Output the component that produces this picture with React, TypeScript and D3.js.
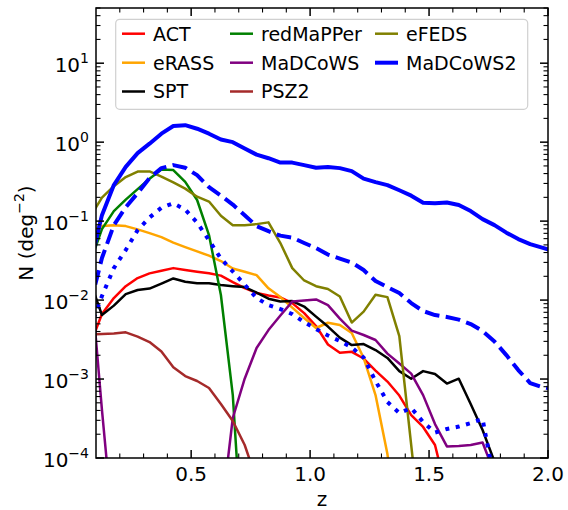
import React from 'react';
import * as d3 from 'd3';

// redshift grid (bin centres)
const zGrid = [0.075, 0.125, 0.175, 0.225, 0.275, 0.325, 0.375, 0.425, 0.475, 0.525, 0.575, 0.625, 0.675, 0.725, 0.775, 0.825, 0.875, 0.925, 0.975, 1.025, 1.075, 1.125, 1.175, 1.225, 1.275, 1.325, 1.375, 1.425, 1.475, 1.525, 1.575, 1.625, 1.675, 1.725, 1.775, 1.825, 1.875, 1.925, 1.975, 2.025];

const actN = [0.00269, 0.00665, 0.0106, 0.0150, 0.0190, 0.0218, 0.0235, 0.0254, 0.0240, 0.0228, 0.0218, 0.0204, 0.0169, 0.0142, 0.0123, 0.0114, 0.0108, 0.00916, 0.00684, 0.00469, 0.00274, 0.00215, 0.00221, 0.00182, 0.00128, 0.000929, 0.000618, 0.000350, 0.000247, 0.000146, 0.000036];
const erassN = [0.0769, 0.0865, 0.0889, 0.0865, 0.0785, 0.0705, 0.0627, 0.0535, 0.0469, 0.0413, 0.0365, 0.0312, 0.0251, 0.0228, 0.0207, 0.0141, 0.0109, 0.00803, 0.00592, 0.00443, 0.00516, 0.00483, 0.00382, 0.00185, 0.000626, 0.000112, 0.00001];
const sptN = [0.0174, 0.00646, 0.00851, 0.0119, 0.0134, 0.0140, 0.0162, 0.0188, 0.0171, 0.0163, 0.0163, 0.0155, 0.0150, 0.0146, 0.0124, 0.0104, 0.00957, 0.00970, 0.00828, 0.00618, 0.00462, 0.00335, 0.00269, 0.00277, 0.00233, 0.00185, 0.00126, 0.00101, 0.00126, 0.00116, 0.000877, 0.00101, 0.000483, 0.000226, 0.000090];
const redmapperN = [0.0294, 0.0793, 0.134, 0.187, 0.254, 0.345, 0.451, 0.443, 0.314, 0.185, 0.0665, 0.0116, 0.000626, 0.0000025];
const madcowsN = [0.024, 0.000406, 0.00001, null, null, null, null, null, null, null, null, 0.000017, 0.000321, 0.00101, 0.00247, 0.00417, 0.00637, 0.00957, 0.00987, 0.0102, 0.00865, 0.00583, 0.00411, 0.00361, 0.00312, 0.00210, 0.00157, 0.00117, 0.000626, 0.000269, 0.000140, 0.000142, 0.000146, 0.000157, 0.000064];
const psz2N = [0.00366, 0.00372, 0.00378, 0.00390, 0.00345, 0.00294, 0.00223, 0.00141, 0.00109, 0.000944, 0.000769, 0.000483, 0.000294, 0.000146, 0.000053];
const efedsN = [0.112, 0.198, 0.277, 0.361, 0.424, 0.426, 0.366, 0.309, 0.258, 0.204, 0.177, 0.117, 0.0889, 0.0889, 0.0916, 0.0964, 0.0528, 0.0254, 0.0177, 0.0150, 0.0138, 0.0111, 0.00519, 0.00714, 0.0117, 0.0109, 0.00350, 0.000146, 0.000006];
const madcows2N = [0.028, 0.119, 0.286, 0.486, 0.726, 0.957, 1.28, 1.60, 1.64, 1.48, 1.28, 1.08, 1.00, 0.83, 0.695, 0.626, 0.551, 0.551, 0.512, 0.475, 0.486, 0.469, 0.430, 0.345, 0.312, 0.286, 0.246, 0.210, 0.171, 0.168, 0.172, 0.160, 0.134, 0.106, 0.089, 0.0714, 0.0592, 0.0512, 0.0462, 0.0417];
const madcows2DashedN = [0.00865, 0.0341, 0.0889, 0.150, 0.226, 0.350, 0.469, 0.512, 0.475, 0.382, 0.269, 0.210, 0.162, 0.119, 0.0865, 0.0746, 0.0655, 0.0618, 0.0528, 0.0455, 0.0377, 0.0335, 0.0299, 0.0240, 0.0174, 0.0146, 0.0123, 0.00916, 0.00726, 0.00646, 0.00610, 0.00566, 0.00497, 0.00406, 0.00299, 0.00201, 0.00130, 0.000889, 0.000793, 0.000746];
const madcows2DottedN = [0.00443, 0.01124, 0.0254, 0.0430, 0.0769, 0.111, 0.148, 0.168, 0.140, 0.0957, 0.0574, 0.0335, 0.0230, 0.0157, 0.0106, 0.00865, 0.00769, 0.00665, 0.00527, 0.00430, 0.00356, 0.00303, 0.00251, 0.00187, 0.000944, 0.000512, 0.000371, 0.000430, 0.000286, 0.000210, 0.000233, 0.000250, 0.000277, 0.000312, 0.00005];

const xMajorTicks = [0.5, 1.0, 1.5, 2.0];
const xTickLabels = ['0.5', '1.0', '1.5', '2.0'];
const yMajorExps = [-4, -3, -2, -1, 0, 1];

const series = [
  { name: 'ACT', values: actN, color: '#ff0000', lw: 2.5, dash: null, legend: true },
  { name: 'eRASS', values: erassN, color: '#ffa500', lw: 2.5, dash: null, legend: true },
  { name: 'SPT', values: sptN, color: '#000000', lw: 2.5, dash: null, legend: true },
  { name: 'redMaPPer', values: redmapperN, color: '#008000', lw: 2.5, dash: null, legend: true },
  { name: 'MaDCoWS', values: madcowsN, color: '#800080', lw: 2.5, dash: null, legend: true },
  { name: 'PSZ2', values: psz2N, color: '#a52a2a', lw: 2.5, dash: null, legend: true },
  { name: 'eFEDS', values: efedsN, color: '#808000', lw: 2.5, dash: null, legend: true },
  { name: 'MaDCoWS2', values: madcows2N, color: '#0000ff', lw: 4, dash: null, legend: true },
  { name: 'MaDCoWS2 dashed', values: madcows2DashedN, color: '#0000ff', lw: 4, dash: '14.8,6.4', legend: false },
  { name: 'MaDCoWS2 dotted', values: madcows2DottedN, color: '#0000ff', lw: 4, dash: '4,6.6', legend: false },
];

const W = 568, H = 510;
const L = 96, R = 548, T = 8, B = 458;
const FONT = 'DejaVu Sans, sans-serif';

export default function App() {
  const x = d3.scaleLinear().domain([0.1, 2.0]).range([L, R]);
  const y = d3.scaleLog().domain([1e-4, 50]).range([B, T]);

  const line = d3.line<[number, number | null]>()
    .defined(d => d[1] != null && (d[1] as number) > 0)
    .x(d => x(d[0]))
    .y(d => y(d[1] as number));

  const xMinor: number[] = [];
  for (let i = 1; i <= 19; i++) {
    const v = +(0.1 + i * 0.1).toFixed(2);
    if (!xMajorTicks.some(m => Math.abs(m - v) < 1e-6)) xMinor.push(v);
  }
  const yMinor: number[] = [];
  for (let e = -4; e <= 1; e++) {
    for (let m = 2; m <= 9; m++) {
      const v = m * Math.pow(10, e);
      if (v <= 50) yMinor.push(v);
    }
  }

  const legendCols = [122, 230, 375];
  const legendRows = [33.7, 62.7, 91.5];
  const legendItems = series.filter(s => s.legend);

  return (
    <svg width={W} height={H} style={{ position: 'absolute', left: 0, top: 0, background: '#fff' }} fontFamily={FONT}>
      <defs>
        <clipPath id="plotclip">
          <rect x={L} y={T} width={R - L} height={B - T} />
        </clipPath>
      </defs>
      <rect x={0} y={0} width={W} height={H} fill="#fff" />
      <g clipPath="url(#plotclip)">
        {series.map(s => (
          <path
            key={s.name}
            d={line(zGrid.map((z, i) => [z, i < s.values.length ? s.values[i] : null]) as any) || ''}
            fill="none"
            stroke={s.color}
            strokeWidth={s.lw}
            strokeDasharray={s.dash || undefined}
            strokeLinejoin="round"
          />
        ))}
      </g>
      {/* ticks */}
      <g stroke="#000">
        {xMajorTicks.map(v => (
          <g key={'xM' + v}>
            <line x1={x(v)} x2={x(v)} y1={B} y2={B - 8} strokeWidth={1.5} />
            <line x1={x(v)} x2={x(v)} y1={T} y2={T + 8} strokeWidth={1.5} />
          </g>
        ))}
        {xMinor.map(v => (
          <g key={'xm' + v}>
            <line x1={x(v)} x2={x(v)} y1={B} y2={B - 4.5} strokeWidth={1.1} />
            <line x1={x(v)} x2={x(v)} y1={T} y2={T + 4.5} strokeWidth={1.1} />
          </g>
        ))}
        {yMajorExps.map(e => (
          <g key={'yM' + e}>
            <line x1={L} x2={L + 8} y1={y(Math.pow(10, e))} y2={y(Math.pow(10, e))} strokeWidth={1.5} />
            <line x1={R} x2={R - 8} y1={y(Math.pow(10, e))} y2={y(Math.pow(10, e))} strokeWidth={1.5} />
          </g>
        ))}
        {yMinor.map(v => (
          <g key={'ym' + v}>
            <line x1={L} x2={L + 4.5} y1={y(v)} y2={y(v)} strokeWidth={1.1} />
            <line x1={R} x2={R - 4.5} y1={y(v)} y2={y(v)} strokeWidth={1.1} />
          </g>
        ))}
      </g>
      <rect x={L} y={T} width={R - L} height={B - T} fill="none" stroke="#000" strokeWidth={1.5} />
      {/* tick labels */}
      {xMajorTicks.map((v, i) => (
        <text key={'xl' + v} x={x(v)} y={481} textAnchor="middle" fontSize={20} fill="#000">{xTickLabels[i]}</text>
      ))}
      {yMajorExps.map(e => (
        <text key={'yl' + e} x={89} y={y(Math.pow(10, e)) + 8.5} textAnchor="end" fontSize={20} fill="#000">
          10<tspan dy={-9} fontSize={14}>{e < 0 ? '\u2212' + Math.abs(e) : String(e)}</tspan>
        </text>
      ))}
      {/* axis labels */}
      <text x={(L + R) / 2} y={506} textAnchor="middle" fontSize={20} fill="#000">z</text>
      <text transform={`translate(33,${(T + B) / 2}) rotate(-90)`} textAnchor="middle" fontSize={20} fill="#000">
        N (deg<tspan dy={-9} fontSize={14}>{'\u22122'}</tspan><tspan dy={9}>)</tspan>
      </text>
      {/* legend */}
      <rect x={115.7} y={19.3} width={412} height={90} rx={4} ry={4} fill="#fff" fillOpacity={0.8} stroke="#d0d0d0" strokeWidth={1.2} />
      {legendItems.map((s, i) => {
        const col = Math.floor(i / 3);
        const row = i % 3;
        const lx = legendCols[col];
        const ly = legendRows[row];
        return (
          <g key={'lg' + s.name}>
            <line x1={lx} x2={lx + 23} y1={ly} y2={ly} stroke={s.color} strokeWidth={s.lw} />
            <text x={lx + 31} y={ly + 6.9} fontSize={19} fill="#000">{s.name}</text>
          </g>
        );
      })}
    </svg>
  );
}
